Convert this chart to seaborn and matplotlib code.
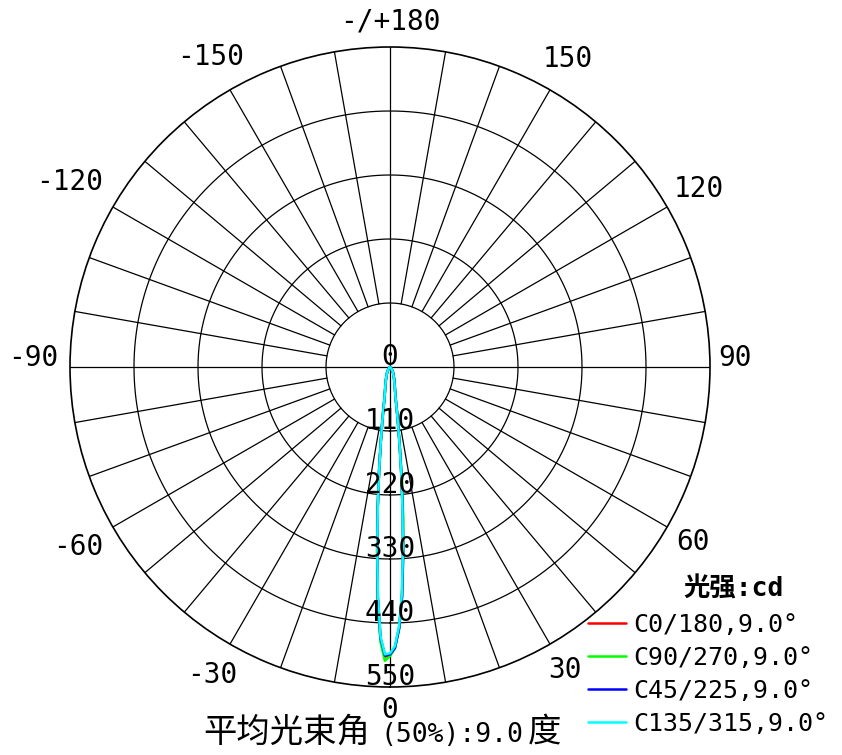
import numpy as np
import pandas as pd
import matplotlib
matplotlib.use("Agg")
import matplotlib.pyplot as plt
import seaborn as sns

# gamma angles (deg) and luminous intensity (cd) for each half C-plane
angles = [0, 1, 2, 3, 4, 5, 6, 7, 8, 9, 10, 12, 14, 16, 20, 25, 30, 40, 50, 60, 90]

c0 = [495, 482, 448, 392, 320, 248, 186, 136, 100, 75, 57, 42, 34, 28, 20, 14, 10, 4, 1, 0, 0]
c180 = [495, 498, 468, 400, 316, 242, 180, 131, 97, 72, 55, 41, 33, 27, 19, 13, 9, 4, 1, 0, 0]
c90 = [497, 484, 450, 395, 326, 262, 200, 140, 102, 76, 57, 42, 34, 28, 20, 14, 10, 4, 1, 0, 0]
c270 = [497, 505, 472, 402, 318, 244, 181, 132, 97, 72, 55, 41, 33, 27, 19, 13, 9, 4, 1, 0, 0]
c45 = [494, 483, 450, 396, 324, 252, 188, 137, 100, 75, 57, 42, 34, 28, 20, 14, 10, 4, 1, 0, 0]
c225 = [494, 496, 466, 398, 315, 241, 179, 130, 96, 72, 54, 41, 33, 27, 19, 13, 9, 4, 1, 0, 0]
c135 = [492, 480, 446, 390, 318, 246, 184, 135, 99, 74, 56, 41, 33, 27, 19, 13, 9, 4, 1, 0, 0]
c315 = [492, 494, 464, 396, 314, 240, 178, 130, 96, 71, 54, 41, 33, 27, 19, 13, 9, 4, 1, 0, 0]

planes = ["C0/180,9.0°", "C90/270,9.0°", "C45/225,9.0°", "C135/315,9.0°"]
colors = ["#ff0000", "#00ff00", "#0000ff", "#00ffff"]
halves = {planes[0]: (c0, c180), planes[1]: (c90, c270),
          planes[2]: (c45, c225), planes[3]: (c135, c315)}

ring_values = [110, 220, 330, 440, 550]
ring_labels = ["0", "110", "220", "330", "440", "550"]
angle_ticks = [0, 30, 60, 90, 120, 150, 180, -150, -120, -90, -60, -30]
angle_labels = ["0", "30", "60", "90", "120", "150", "-/+180",
                "-150", "-120", "-90", "-60", "-30"]
# label distance from centre in pixels
label_dist = [343, 350, 350, 345, 357, 356, 346, 358, 370, 357, 360, 356]

rows = []
for p in planes:
    right, left = halves[p]
    for a, v in zip(angles[::-1], left[::-1]):
        rows.append((p, np.deg2rad(-a), v))
    for a, v in zip(angles, right):
        rows.append((p, np.deg2rad(a), v))
df = pd.DataFrame(rows, columns=["plane", "theta", "cd"])

sns.set_style("white")
mono = ["DejaVu Sans Mono", "Noto Sans CJK SC"]
cjk = ["Noto Sans CJK SC", "DejaVu Sans"]
plt.rcParams["font.family"] = mono
plt.rcParams["text.color"] = "black"

fig = plt.figure(figsize=(8.42, 7.55), dpi=100)
ax = fig.add_axes([70 / 842, 68 / 755, 640 / 842, 640 / 755], projection="polar")
ax.set_theta_zero_location("S")
ax.set_theta_direction(1)
rmax = ring_values[-1]
ax.set_ylim(0, rmax)

sns.lineplot(data=df, x="theta", y="cd", hue="plane", hue_order=planes,
             palette=colors, sort=False, estimator=None, legend=False,
             lw=1.8, zorder=3, ax=ax)
curve_lines = ax.get_lines()[:4]

# grid
th = np.linspace(0, 2 * np.pi, 721)
for r in ring_values[:-1]:
    ax.plot(th, np.full_like(th, r), color="black", lw=0.9, zorder=1)
for a in range(0, 360, 10):
    r0 = 0 if a % 90 == 0 else ring_values[0]
    ax.plot([np.deg2rad(a)] * 2, [r0, rmax], color="black", lw=0.9, zorder=1)
ax.spines["polar"].set_color("black")
ax.spines["polar"].set_linewidth(1.2)
ax.grid(False)
ax.set_xticks([])
ax.set_yticks([])
ax.set_xlabel("")
ax.set_ylabel("")

px = rmax / 320.0
for a, lab, d in zip(angle_ticks, angle_labels, label_dist):
    dy = 6.5 if abs(a) == 90 else 0
    ax.annotate(lab, xy=(np.deg2rad(a), d * px), xytext=(0, dy),
                textcoords="offset points", ha="center", va="center",
                fontsize=20, annotation_clip=False)

for r, lab in zip([0] + ring_values, ring_labels):
    ax.annotate(lab, xy=(0, r), xytext=(0, 7), textcoords="offset points",
                ha="center", va="center", fontsize=20, zorder=4,
                annotation_clip=False)

ax.legend(curve_lines, planes, loc="upper left",
          bbox_to_anchor=(588 / 842, 1 - 613 / 755),
          bbox_transform=fig.transFigure, frameon=False, fontsize=18,
          handlelength=1.5, handletextpad=0.3, labelspacing=0.36,
          borderpad=0, borderaxespad=0)
fig.text(734 / 842, 1 - 590 / 755, "光强:cd", ha="center", va="center",
         fontsize=19, fontweight="bold")

base_y = 1 - 742 / 755
fig.text(203 / 842, base_y, "平均光束角", ha="left", va="baseline",
         fontsize=24, family=cjk)
fig.text(381 / 842, base_y, "(50%):9.0", ha="left", va="baseline",
         fontsize=19)
fig.text(528 / 842, base_y, "度", ha="left", va="baseline",
         fontsize=24, family=cjk)

fig.savefig("out.png", dpi=100, facecolor="white")
